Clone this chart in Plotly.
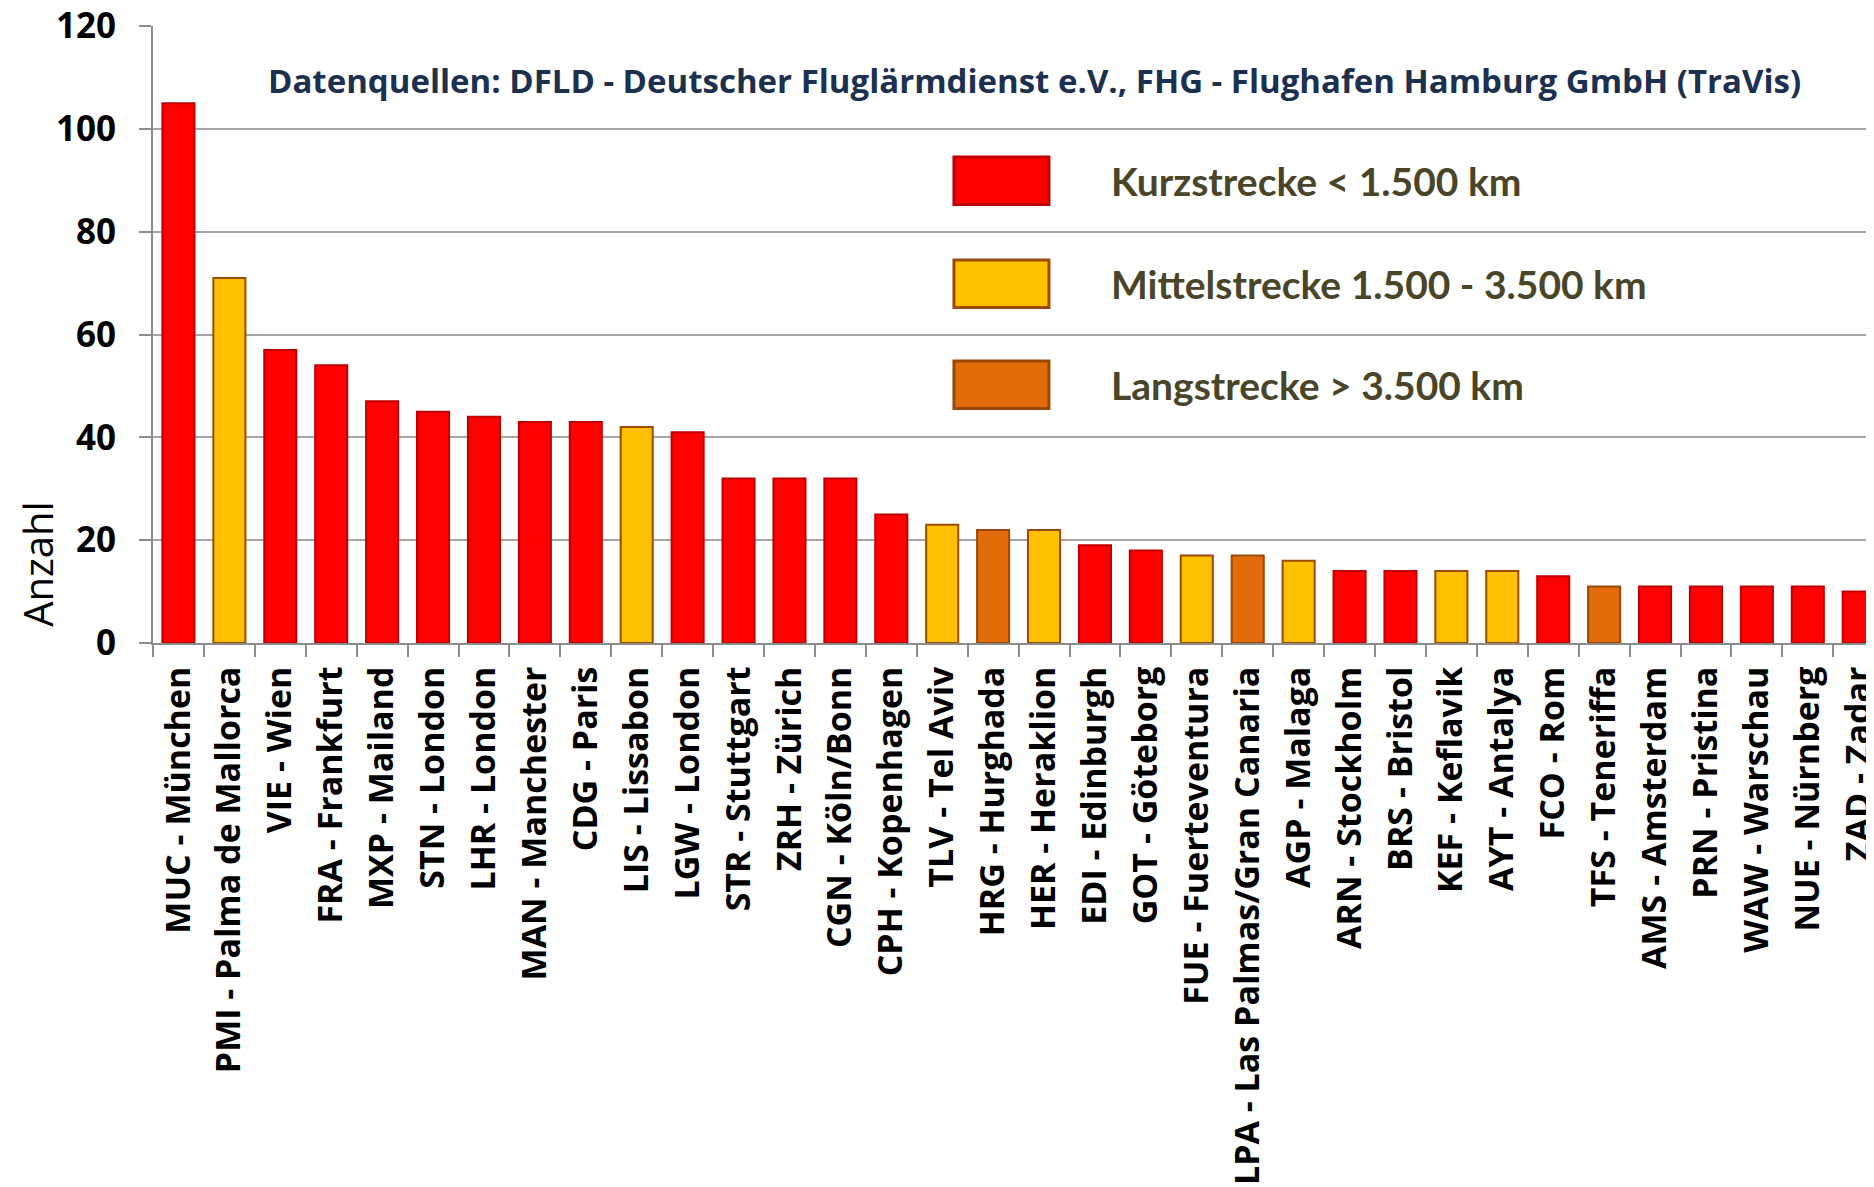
import plotly.graph_objects as go

# ---- data ----
categories = [
    "MUC - München", "PMI - Palma de Mallorca", "VIE - Wien", "FRA - Frankfurt",
    "MXP - Mailand", "STN - London", "LHR - London", "MAN - Manchester",
    "CDG - Paris", "LIS - Lissabon", "LGW - London", "STR - Stuttgart",
    "ZRH - Zürich", "CGN - Köln/Bonn", "CPH - Kopenhagen", "TLV - Tel Aviv",
    "HRG - Hurghada", "HER - Heraklion", "EDI - Edinburgh", "GOT - Göteborg",
    "FUE - Fuerteventura", "LPA - Las Palmas/Gran Canaria", "AGP - Malaga",
    "ARN - Stockholm", "BRS - Bristol", "KEF - Keflavik", "AYT - Antalya",
    "FCO - Rom", "TFS - Teneriffa", "AMS - Amsterdam", "PRN - Pristina",
    "WAW - Warschau", "NUE - Nürnberg", "ZAD - Zadar",
]
values = [105, 71, 57, 54, 47, 45, 44, 43, 43, 42, 41, 32, 32, 32, 25, 23,
          22, 22, 19, 18, 17, 17, 16, 14, 14, 14, 14, 13, 11, 11, 11, 11, 11, 10]
# K = Kurzstrecke, M = Mittelstrecke, L = Langstrecke
distance_class = ["K", "M", "K", "K", "K", "K", "K", "K", "K", "M", "K", "K",
                  "K", "K", "K", "M", "L", "M", "K", "K", "M", "L", "M", "K",
                  "K", "M", "M", "K", "L", "K", "K", "K", "K", "K"]
class_order = ["K", "M", "L"]
class_labels = ["Kurzstrecke < 1.500 km", "Mittelstrecke 1.500 - 3.500 km",
                "Langstrecke > 3.500 km"]
y_ticks = [0, 20, 40, 60, 80, 100, 120]
title_text = ("Datenquellen: DFLD - Deutscher Fluglärmdienst e.V., "
              "FHG - Flughafen Hamburg GmbH (TraVis)")
y_title = "Anzahl"

# ---- styles ----
fill = {"K": "#FF0000", "M": "#FFC000", "L": "#E36C0A"}
edge = {"K": "#C00000", "M": "#9C4A06", "L": "#984807"}

fig = go.Figure()
fig.add_trace(go.Bar(
    x=categories, y=values,
    marker=dict(color=[fill[c] for c in distance_class],
                line=dict(color=[edge[c] for c in distance_class], width=2)),
    showlegend=False,
))

# legend drawn as boxes + text (large swatches like the original)
box_tops = [0.7877, 0.6207, 0.4570]
box_h = 0.077
for c, lab, top in zip(class_order, class_labels, box_tops):
    fig.add_shape(type="rect", xref="paper", yref="paper",
                  x0=0.4654, x1=0.5206, y0=top - box_h, y1=top,
                  fillcolor=fill[c], line=dict(color=edge[c], width=3))
    fig.add_annotation(xref="paper", yref="paper", x=0.5555, y=top - box_h / 2,
                       text=lab, showarrow=False, xanchor="left", yanchor="middle",
                       font=dict(family="Lato", size=39, color="#4A4528", weight="bold"))

fig.add_annotation(xref="paper", yref="paper", x=0.512, y=0.911, text=title_text,
                   showarrow=False, xanchor="center", yanchor="middle",
                   font=dict(family="Open Sans", size=33, color="#1C3050", weight="bold"))

fig.add_annotation(xref="paper", yref="paper", x=-0.0675, y=0.128, text=y_title,
                   textangle=-90, showarrow=False, xanchor="center", yanchor="middle",
                   font=dict(family="Open Sans", size=40, color="black"))

fig.update_layout(
    width=1866, height=1179,
    margin=dict(l=145, r=0, t=18, b=544),
    paper_bgcolor="white", plot_bgcolor="white",
    bargap=0.37,
)
fig.update_xaxes(
    range=[-0.5, 33.3], tickangle=-90, automargin=False,
    tickfont=dict(family="Open Sans", size=34, color="black", weight="bold"),
    ticklabelstandoff=8, ticklabeloverflow="allow",
    showline=True, linecolor="#8C8C8C", linewidth=2,
    ticks="outside", tickson="boundaries", ticklen=12, tickcolor="#8C8C8C", tickwidth=2,
    showgrid=False,
)
fig.update_yaxes(
    range=[0, 120], tickvals=y_ticks, automargin=False,
    tickfont=dict(family="Open Sans", size=35, color="black", weight="bold"),
    ticklabelstandoff=16, ticklabeloverflow="allow",
    showline=True, linecolor="#8C8C8C", linewidth=2,
    ticks="outside", ticklen=12, tickcolor="#8C8C8C", tickwidth=2,
    showgrid=True, gridcolor="#A6A6A6", gridwidth=2,
    zeroline=False,
)

fig.write_html("out.html")
